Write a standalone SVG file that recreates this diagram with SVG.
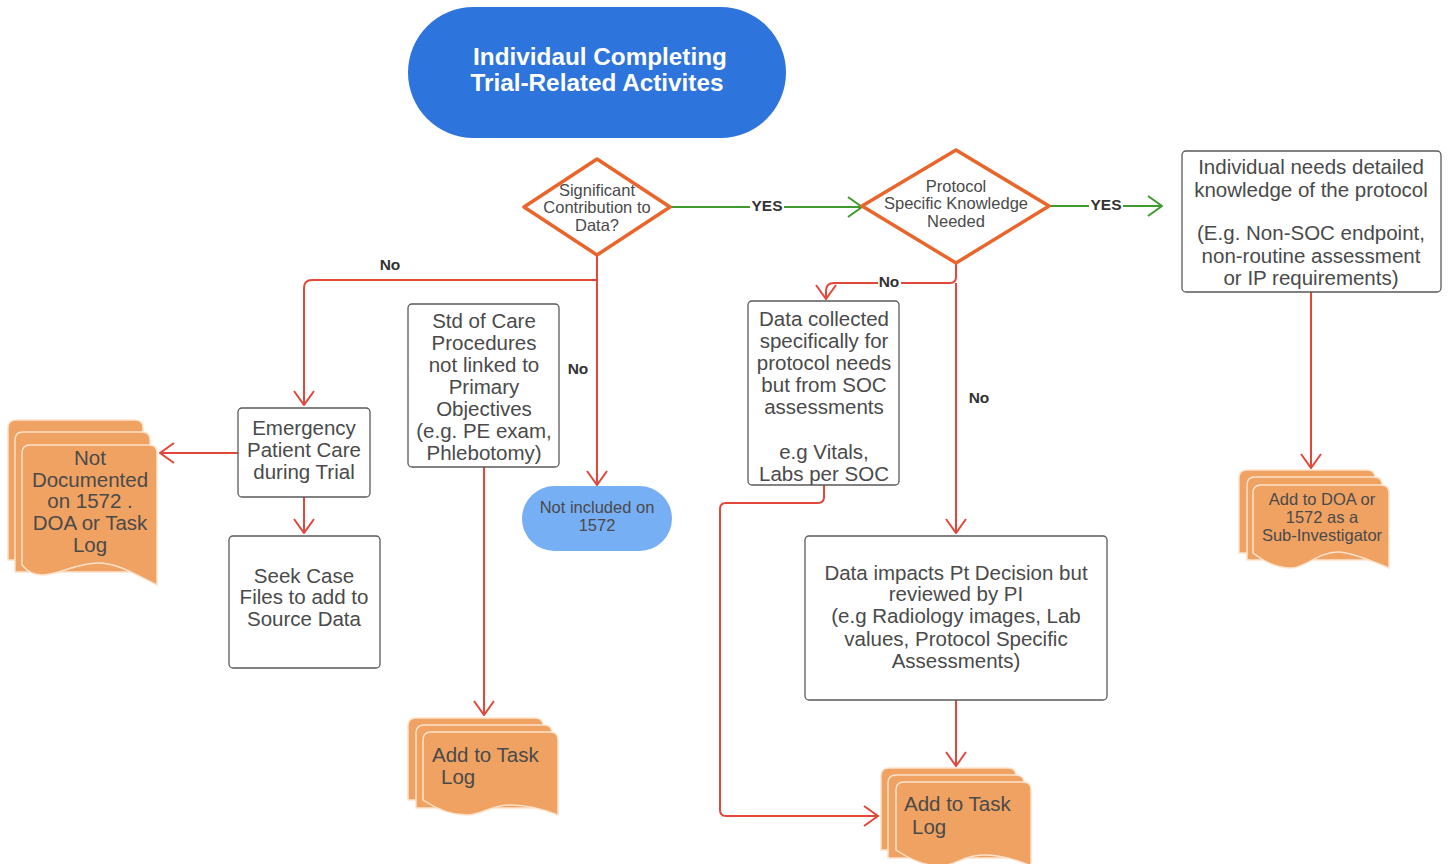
<svg xmlns="http://www.w3.org/2000/svg" width="1450" height="864" viewBox="0 0 1450 864">
<style>
text{font-family:"Liberation Sans",Arial,sans-serif;fill:#4a4a4a;text-anchor:middle}
.box{fill:#fff;stroke:#5a5a5a;stroke-width:1.3}
.t{font-size:20.5px}
.s{font-size:16.5px}
.lbl{font-size:15.5px;font-weight:bold;fill:#333}
.dia{fill:#fff;stroke:#e8652b;stroke-width:3.5;stroke-linejoin:round}
.doc{fill:#f0a263;stroke:#fbe2cc;stroke-width:1.5}
.red{fill:none;stroke:#e2473a;stroke-width:2}
.grn{fill:none;stroke:#3f9a2f;stroke-width:2}
.ttl{font-size:24.3px;font-weight:bold;fill:#fff}
</style>
<defs>
<marker id="ar" viewBox="0 0 16 22" refX="15" refY="11" markerWidth="16" markerHeight="22" markerUnits="userSpaceOnUse" orient="auto"><path d="M1,1 L15,11 L1,21" fill="none" stroke="#e2473a" stroke-width="2"/></marker>
<marker id="ag" viewBox="0 0 16 22" refX="15" refY="11" markerWidth="16" markerHeight="22" markerUnits="userSpaceOnUse" orient="auto"><path d="M1,1 L15,11 L1,21" fill="none" stroke="#3f9a2f" stroke-width="2"/></marker>
</defs>
<rect width="1450" height="864" fill="#fff"/>

<g id="connectors">
<path class="grn" d="M670,207 H862" marker-end="url(#ag)"/>
<path class="grn" d="M1049,206 H1162" marker-end="url(#ag)"/>
<path class="red" d="M597,255 V280 H312 Q304,280 304,288 V405" marker-end="url(#ar)"/>
<path class="red" d="M597,280 V485" marker-end="url(#ar)"/>
<path class="red" d="M304,497 V533" marker-end="url(#ar)"/>
<path class="red" d="M238,453 H160" marker-end="url(#ar)"/>
<path class="red" d="M484,467 V715" marker-end="url(#ar)"/>
<path class="red" d="M956,263 V277 Q956,283 950,283 H834 Q826,283 826,291 V299" marker-end="url(#ar)"/>
<path class="red" d="M956,283 V533" marker-end="url(#ar)"/>
<path class="red" d="M1311,292 V468" marker-end="url(#ar)"/>
<path class="red" d="M824,485 V497 Q824,503 818,503 H726 Q720,503 720,509 V810 Q720,816 726,816 H878" marker-end="url(#ar)"/>
<path class="red" d="M956,700 V766" marker-end="url(#ar)"/>
<rect x="750" y="197" width="34" height="18" fill="#fff"/>
<text class="lbl" x="767" y="211">YES</text>
<rect x="1089" y="196" width="34" height="18" fill="#fff"/>
<text class="lbl" x="1106" y="210">YES</text>
<text class="lbl" x="390" y="270">No</text>
<text class="lbl" x="578" y="374">No</text>
<rect x="878" y="274" width="23" height="16" fill="#fff"/>
<text class="lbl" x="889" y="287">No</text>
<text class="lbl" x="979" y="403">No</text>
</g>

<g id="start">
<rect x="408" y="7" width="378" height="131" rx="65.5" fill="#2d74dc"/>
<text class="ttl" x="600" y="65">Individaul Completing</text>
<text class="ttl" x="597" y="91">Trial-Related Activites</text>
</g>

<g id="decision1">
<polygon class="dia" points="597,159 670,207 597,255 524,207"/>
<text class="s" x="597" y="196">Significant</text>
<text class="s" x="597" y="213">Contribution to</text>
<text class="s" x="597" y="231">Data?</text>
</g>

<g id="decision2">
<polygon class="dia" points="956,150 1049,206 956,263 862,206"/>
<text class="s" x="956" y="192">Protocol</text>
<text class="s" x="956" y="209">Specific Knowledge</text>
<text class="s" x="956" y="227">Needed</text>
</g>

<g id="needsKnowledge">
<rect class="box" x="1182" y="151" width="259" height="141" rx="4"/>
<text class="t" x="1311" y="174">Individual needs detailed</text>
<text class="t" x="1311" y="197">knowledge of the protocol</text>
<text class="t" x="1311" y="240">(E.g. Non-SOC endpoint,</text>
<text class="t" x="1311" y="263">non-routine assessment</text>
<text class="t" x="1311" y="285">or IP requirements)</text>
</g>

<g id="addDOA">
<path class="doc" d="M1239,478 Q1239,470 1247,470 H1367 Q1375,470 1375,478 V553 H1239 Z"/>
<path class="doc" d="M1247,485 Q1247,477 1255,477 H1374 Q1382,477 1382,485 V560 H1247 Z"/>
<path class="doc" d="M1253,493 Q1253,485 1261,485 H1381 Q1389,485 1389,493 V568 C1370,560 1350,552 1338,552 C1318,552 1305,568 1291,568 C1275,568 1262,560 1253,553 Z"/>
<text class="s" x="1322" y="505">Add to DOA or</text>
<text class="s" x="1322" y="523">1572 as a</text>
<text class="s" x="1322" y="541">Sub-Investigator</text>
</g>

<g id="emergency">
<rect class="box" x="238" y="408" width="132" height="89" rx="4"/>
<text class="t" x="304" y="435">Emergency</text>
<text class="t" x="304" y="457">Patient Care</text>
<text class="t" x="304" y="479">during Trial</text>
</g>

<g id="notDocumented">
<path class="doc" d="M8,428 Q8,420 16,420 H135 Q143,420 143,428 V560 H8 Z"/>
<path class="doc" d="M15,440 Q15,432 23,432 H142 Q150,432 150,440 V572 H15 Z"/>
<path class="doc" d="M22,453 Q22,445 30,445 H149 Q157,445 157,453 V585 C138,576 118,563 98,563 C75,563 60,575 42,575 C32,575 26,570 22,565 Z"/>
<text class="t" x="90" y="465">Not</text>
<text class="t" x="90" y="487">Documented</text>
<text class="t" x="90" y="508">on 1572 .</text>
<text class="t" x="90" y="530">DOA or Task</text>
<text class="t" x="90" y="552">Log</text>
</g>

<g id="seekCase">
<rect class="box" x="229" y="536" width="151" height="132" rx="4"/>
<text class="t" x="304" y="583">Seek Case</text>
<text class="t" x="304" y="604">Files to add to</text>
<text class="t" x="304" y="626">Source Data</text>
</g>

<g id="stdCare">
<rect class="box" x="408" y="304" width="151" height="163" rx="4"/>
<text class="t" x="484" y="328">Std of Care</text>
<text class="t" x="484" y="350">Procedures</text>
<text class="t" x="484" y="372">not linked to</text>
<text class="t" x="484" y="394">Primary</text>
<text class="t" x="484" y="416">Objectives</text>
<text class="t" x="484" y="438">(e.g. PE exam,</text>
<text class="t" x="484" y="460">Phlebotomy)</text>
</g>

<g id="taskLog1">
<path class="doc" d="M408,726 Q408,718 416,718 H535 Q543,718 543,726 V800 H408 Z"/>
<path class="doc" d="M416,733 Q416,725 424,725 H544 Q552,725 552,733 V808 H416 Z"/>
<path class="doc" d="M423,740 Q423,732 431,732 H550 Q558,732 558,740 V815 C540,808 525,805 510,805 C490,805 482,815 467,815 C450,815 435,808 423,800 Z"/>
<text class="t" x="432" y="762" style="text-anchor:start">Add to Task</text>
<text class="t" x="441" y="784" style="text-anchor:start">Log</text>
</g>

<g id="notIncluded">
<rect x="522" y="486" width="150" height="65" rx="32.5" fill="#77aff5"/>
<text class="s" x="597" y="513">Not included on</text>
<text class="s" x="597" y="531">1572</text>
</g>

<g id="dataCollected">
<rect class="box" x="748" y="301" width="151" height="184" rx="4"/>
<text class="t" x="824" y="326">Data collected</text>
<text class="t" x="824" y="348">specifically for</text>
<text class="t" x="824" y="370">protocol needs</text>
<text class="t" x="824" y="392">but from SOC</text>
<text class="t" x="824" y="414">assessments</text>
<text class="t" x="824" y="459">e.g Vitals,</text>
<text class="t" x="824" y="481">Labs per SOC</text>
</g>

<g id="dataImpacts">
<rect class="box" x="805" y="536" width="302" height="164" rx="4"/>
<text class="t" x="956" y="580">Data impacts Pt Decision but</text>
<text class="t" x="956" y="601">reviewed by PI</text>
<text class="t" x="956" y="623">(e.g Radiology images, Lab</text>
<text class="t" x="956" y="646">values, Protocol Specific</text>
<text class="t" x="956" y="668">Assessments)</text>
</g>

<g id="taskLog2">
<path class="doc" d="M881,776 Q881,768 889,768 H1008 Q1016,768 1016,776 V850 H881 Z"/>
<path class="doc" d="M888,783 Q888,775 896,775 H1016 Q1024,775 1024,783 V858 H888 Z"/>
<path class="doc" d="M896,790 Q896,782 904,782 H1023 Q1031,782 1031,790 V866 C1013,858 998,855 983,855 C963,855 955,866 940,866 C923,866 908,858 896,850 Z"/>
<text class="t" x="904" y="811" style="text-anchor:start">Add to Task</text>
<text class="t" x="912" y="834" style="text-anchor:start">Log</text>
</g>
</svg>
